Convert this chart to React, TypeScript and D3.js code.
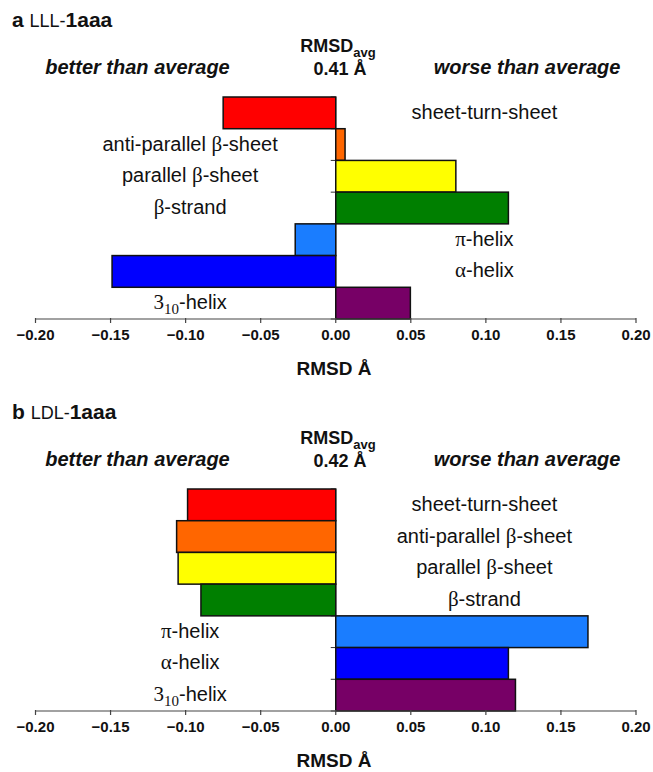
import React from 'react';
import * as d3 from 'd3';

const categories = [
  'sheet-turn-sheet',
  'anti-parallel β-sheet',
  'parallel β-sheet',
  'β-strand',
  'π-helix',
  'α-helix',
  '3_10-helix',
];
const barColors = ['#ff0000', '#ff6600', '#ffff00', '#007f00', '#1a7dff', '#0000ff', '#770066'];
const lllValues = [-0.075, 0.0062, 0.08, 0.115, -0.027, -0.149, 0.0497];
const ldlValues = [-0.0987, -0.106, -0.105, -0.0898, 0.168, 0.115, 0.1197];
const xTicks = [-0.2, -0.15, -0.1, -0.05, 0, 0.05, 0.1, 0.15, 0.2];
const panels = [
  { letter: 'a', prefix: 'LLL-', name: '1aaa', avg: '0.41 Å', values: lllValues },
  { letter: 'b', prefix: 'LDL-', name: '1aaa', avg: '0.42 Å', values: ldlValues },
];

const W = 653;
const H = 772;
const SANS = '"Liberation Sans", Arial, Helvetica, sans-serif';
const SERIF = '"Liberation Serif", "Times New Roman", serif';

const x = d3.scaleLinear().domain([-0.2, 0.2]).range([35.5, 636]);

function Label({ text, cx, y }: { text: string; cx: number; y: number }) {
  if (text.startsWith('3_10')) {
    const rest = text.slice(4);
    return (
      <text x={cx} y={y} textAnchor="middle" fontFamily={SANS} fontSize={20} fill="#111">
        <tspan fontFamily={SERIF} fontSize={21}>3</tspan>
        <tspan fontFamily={SERIF} fontSize={15} dy={5}>10</tspan>
        <tspan dy={-5}>{rest}</tspan>
      </text>
    );
  }
  const parts: { s: string; greek: boolean }[] = [];
  for (const ch of text) {
    const g = /[βπα]/.test(ch);
    const last = parts[parts.length - 1];
    if (last && last.greek === g) last.s += ch;
    else parts.push({ s: ch, greek: g });
  }
  return (
    <text x={cx} y={y} textAnchor="middle" fontFamily={SANS} fontSize={20} fill="#111">
      {parts.map((p, i) => (
        <tspan key={i} fontFamily={p.greek ? SERIF : SANS} fontSize={p.greek ? 21 : 20}>
          {p.s}
        </tspan>
      ))}
    </text>
  );
}

function Panel({ y0, panel }: { y0: number; panel: (typeof panels)[number] }) {
  const top = y0 + 97;
  const axisY = y0 + 319;
  const y = d3.scaleBand<string>().domain(categories).range([top, axisY]).paddingInner(0).paddingOuter(0);
  const x0 = x(0);
  const leftLabelX = x(-0.097);
  const rightLabelX = x(0.099);
  const bw = y.bandwidth();
  const boundaries = d3.range(categories.length + 1).map((i) => top + i * bw);
  return (
    <g>
      <text x={12} y={y0 + 27} fontFamily={SANS} fill="#111">
        <tspan fontWeight="bold" fontSize={21}>{panel.letter} </tspan>
        <tspan fontSize={18}>{panel.prefix}</tspan>
        <tspan fontWeight="bold" fontSize={21}>{panel.name}</tspan>
      </text>
      <text x={338} y={y0 + 52} textAnchor="middle" fontFamily={SANS} fontWeight="bold" fontSize={18} fill="#111">
        <tspan>RMSD</tspan>
        <tspan fontSize={13} dy={5}>avg</tspan>
      </text>
      <text x={340} y={y0 + 75} textAnchor="middle" fontFamily={SANS} fontWeight="bold" fontSize={18} fill="#111">
        {panel.avg}
      </text>
      <text x={137.5} y={y0 + 74} textAnchor="middle" fontFamily={SANS} fontWeight="bold" fontStyle="italic" fontSize={20} fill="#111">
        better than average
      </text>
      <text x={527} y={y0 + 74} textAnchor="middle" fontFamily={SANS} fontWeight="bold" fontStyle="italic" fontSize={20} fill="#111">
        worse than average
      </text>

      {boundaries.map((b, i) => (
        <line key={'yt' + i} x1={x0 - 5} x2={x0} y1={b} y2={b} stroke="#333" strokeWidth={1} />
      ))}
      <line x1={x0} x2={x0} y1={top} y2={axisY} stroke="#333" strokeWidth={1} />

      {categories.map((c, i) => {
        const v = panel.values[i];
        const xa = x(Math.min(0, v));
        const xb = x(Math.max(0, v));
        return (
          <rect
            key={c}
            x={xa}
            y={y(c)!}
            width={xb - xa}
            height={bw}
            fill={barColors[i]}
            stroke="#111"
            strokeWidth={1.5}
          />
        );
      })}

      {categories.map((c, i) => {
        const v = panel.values[i];
        const cx = v > 0 ? leftLabelX : rightLabelX;
        return <Label key={'l' + c} text={c} cx={cx} y={y(c)! + bw / 2 + 6} />;
      })}

      <line x1={x(-0.2)} x2={x(0.2)} y1={axisY} y2={axisY} stroke="#444" strokeWidth={1.2} />
      {xTicks.map((t) => (
        <g key={'xt' + t}>
          <line x1={x(t)} x2={x(t)} y1={axisY - 1} y2={axisY + 4} stroke="#444" strokeWidth={1.2} />
          <text x={x(t)} y={axisY + 21} textAnchor="middle" fontFamily={SANS} fontWeight="bold" fontSize={15} fill="#111">
            {d3.format('.2f')(t)}
          </text>
        </g>
      ))}
      <text x={334} y={y0 + 375} textAnchor="middle" fontFamily={SANS} fontWeight="bold" fontSize={19} fill="#111">
        RMSD Å
      </text>
    </g>
  );
}

export default function App() {
  return (
    <svg
      width={W}
      height={H}
      viewBox={`0 0 ${W} ${H}`}
      style={{ position: 'absolute', left: 0, top: 0, background: '#fff' }}
    >
      <rect x={0} y={0} width={W} height={H} fill="#fff" />
      <Panel y0={0} panel={panels[0]} />
      <Panel y0={392} panel={panels[1]} />
    </svg>
  );
}
